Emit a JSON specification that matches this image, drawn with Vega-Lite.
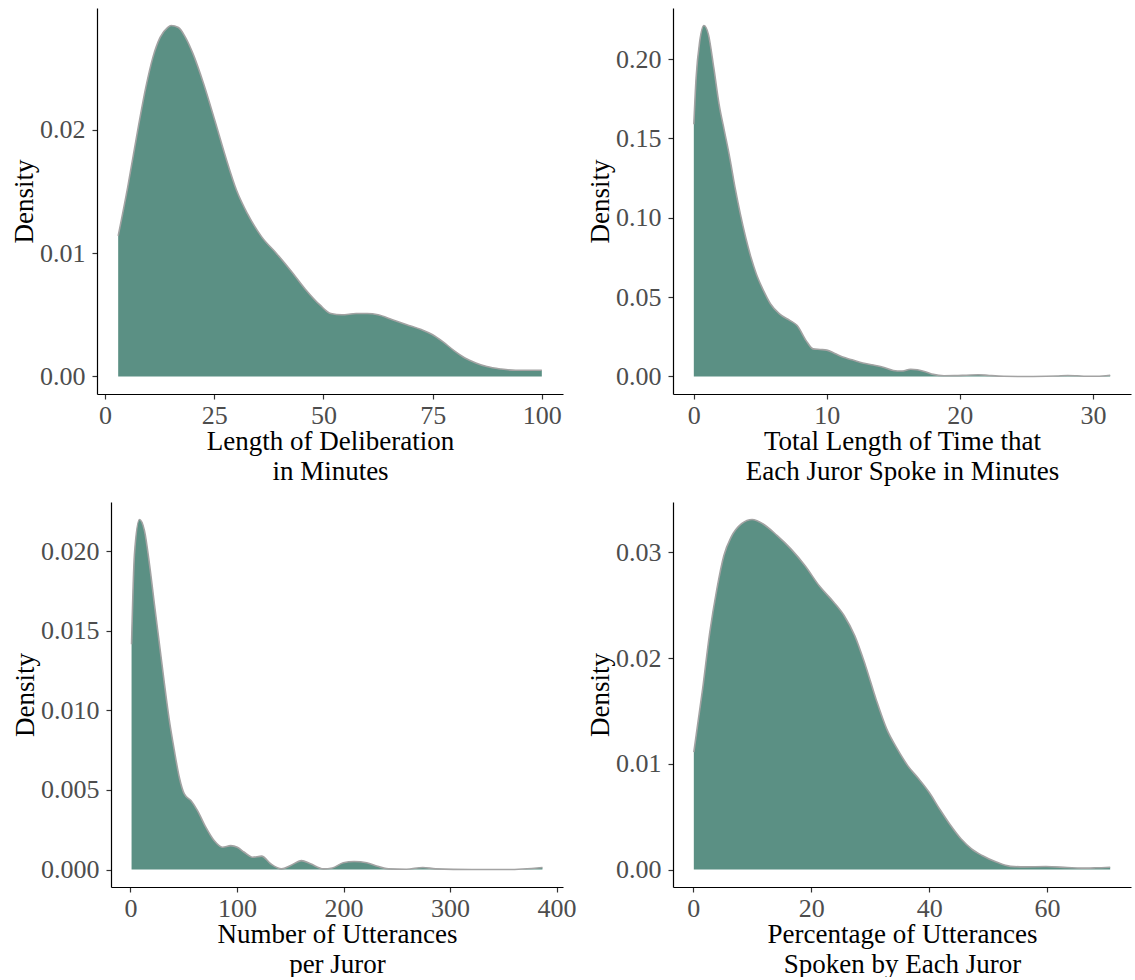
{
  "$schema": "https://vega.github.io/schema/vega-lite/v6.json",
  "background": "white",
  "padding": {"left": 10, "top": 8, "right": 2, "bottom": 0},
  "autosize": {"type": "pad"},
  "config": {
    "view": {"stroke": null},
    "axis": {
      "grid": false,
      "domainColor": "black",
      "domainWidth": 1.2,
      "tickColor": "#333333",
      "tickWidth": 1.2,
      "tickSize": 5,
      "labelFont": "Liberation Serif",
      "labelFontSize": 26,
      "labelColor": "#4D4D4D",
      "labelFlush": false,
      "titleFont": "Liberation Serif",
      "titleFontSize": 27,
      "titleFontWeight": "normal",
      "titleColor": "black"
    },
    "axisX": {"labelPadding": 3, "titlePadding": 0, "titleLineHeight": 30},
    "axisY": {"labelPadding": 7, "titlePadding": 1}
  },
  "datasets": {
    "empty": [],
    "p1": [
      {"x": 3, "density": 0.0114}, {"x": 5.15, "density": 0.0153}, {"x": 7.64, "density": 0.0203},
      {"x": 9.3, "density": 0.0234}, {"x": 10.96, "density": 0.0259}, {"x": 12.6, "density": 0.0275},
      {"x": 14.3, "density": 0.0283}, {"x": 15.1, "density": 0.02846}, {"x": 16.8, "density": 0.0283},
      {"x": 18.4, "density": 0.0275}, {"x": 20.1, "density": 0.0262}, {"x": 22.6, "density": 0.0237},
      {"x": 25.1, "density": 0.0208}, {"x": 27.6, "density": 0.0178}, {"x": 30.1, "density": 0.0151},
      {"x": 32.6, "density": 0.0132}, {"x": 35.9, "density": 0.0113}, {"x": 39.2, "density": 0.0100},
      {"x": 42.5, "density": 0.0086}, {"x": 45.8, "density": 0.0071}, {"x": 49.2, "density": 0.0058},
      {"x": 51.7, "density": 0.0051}, {"x": 54.2, "density": 0.0050}, {"x": 57.5, "density": 0.0051},
      {"x": 60.0, "density": 0.0051}, {"x": 62.5, "density": 0.0050}, {"x": 65.8, "density": 0.0046},
      {"x": 69.1, "density": 0.0042}, {"x": 72.4, "density": 0.0038}, {"x": 74.9, "density": 0.0034},
      {"x": 77.4, "density": 0.0028}, {"x": 79.9, "density": 0.0021}, {"x": 82.4, "density": 0.0015},
      {"x": 84.9, "density": 0.0011}, {"x": 87.4, "density": 0.0008}, {"x": 90.7, "density": 0.0006},
      {"x": 94.0, "density": 0.0005}, {"x": 97.3, "density": 0.0005}, {"x": 100, "density": 0.0005}
    ],
    "p2": [
      {"x": 0, "density": 0.159}, {"x": 0.17, "density": 0.188}, {"x": 0.44, "density": 0.211},
      {"x": 0.76, "density": 0.2212}, {"x": 1.1, "density": 0.2155}, {"x": 1.5, "density": 0.1946},
      {"x": 1.9, "density": 0.1715}, {"x": 2.3, "density": 0.1547}, {"x": 2.7, "density": 0.138},
      {"x": 3.1, "density": 0.119}, {"x": 3.5, "density": 0.1023}, {"x": 3.9, "density": 0.0876},
      {"x": 4.3, "density": 0.075}, {"x": 4.7, "density": 0.0646}, {"x": 5.24, "density": 0.0541},
      {"x": 5.77, "density": 0.0457}, {"x": 6.44, "density": 0.0394}, {"x": 7.24, "density": 0.0352},
      {"x": 7.77, "density": 0.0321}, {"x": 8.44, "density": 0.0226}, {"x": 8.97, "density": 0.0174},
      {"x": 9.5, "density": 0.0170}, {"x": 10.0, "density": 0.0166}, {"x": 10.6, "density": 0.0145},
      {"x": 11.2, "density": 0.0122}, {"x": 11.9, "density": 0.0105}, {"x": 12.7, "density": 0.0085},
      {"x": 13.5, "density": 0.0072}, {"x": 14.3, "density": 0.0057}, {"x": 15.0, "density": 0.0038},
      {"x": 15.6, "density": 0.0034}, {"x": 16.3, "density": 0.0045}, {"x": 16.8, "density": 0.0042},
      {"x": 17.4, "density": 0.0030}, {"x": 18.0, "density": 0.0013}, {"x": 18.8, "density": 0.0004},
      {"x": 19.6, "density": 0.0005}, {"x": 20.5, "density": 0.0008}, {"x": 21.4, "density": 0.0011},
      {"x": 22.2, "density": 0.0006}, {"x": 23.3, "density": 0.0001}, {"x": 24.5, "density": 0.0},
      {"x": 25.5, "density": 0.0}, {"x": 26.5, "density": 0.0001}, {"x": 27.3, "density": 0.0003},
      {"x": 28.1, "density": 0.0006}, {"x": 28.8, "density": 0.0004}, {"x": 29.5, "density": 0.0001},
      {"x": 30.3, "density": 0.0001}, {"x": 31.3, "density": 0.0008}
    ],
    "p3": [
      {"x": 1, "density": 0.01416}, {"x": 3.7, "density": 0.0198}, {"x": 8.4, "density": 0.0220},
      {"x": 13.1, "density": 0.0213}, {"x": 17.8, "density": 0.0192}, {"x": 22.4, "density": 0.0167},
      {"x": 27.1, "density": 0.0142}, {"x": 31.8, "density": 0.0117}, {"x": 36.4, "density": 0.0094},
      {"x": 41.1, "density": 0.0075}, {"x": 45.8, "density": 0.0058}, {"x": 50.5, "density": 0.00475},
      {"x": 56.7, "density": 0.00433}, {"x": 62.9, "density": 0.0037}, {"x": 70.7, "density": 0.00266},
      {"x": 78.5, "density": 0.00182}, {"x": 86.3, "density": 0.0014}, {"x": 94.1, "density": 0.0015},
      {"x": 100.3, "density": 0.0014}, {"x": 106.5, "density": 0.0011}, {"x": 114.6, "density": 0.00077},
      {"x": 123.1, "density": 0.00084}, {"x": 131.6, "density": 0.00036}, {"x": 141.8, "density": 0.00004},
      {"x": 150.3, "density": 0.00025}, {"x": 160.5, "density": 0.00056}, {"x": 169, "density": 0.00036},
      {"x": 181, "density": 0.00004}, {"x": 189.5, "density": 0.0001}, {"x": 199.7, "density": 0.00042},
      {"x": 209.9, "density": 0.0005}, {"x": 221.8, "density": 0.00042}, {"x": 232, "density": 0.0002},
      {"x": 242, "density": 0.00004}, {"x": 259, "density": 0.00002}, {"x": 274.5, "density": 0.00013},
      {"x": 286.4, "density": 0.00004}, {"x": 320, "density": 0.0}, {"x": 354, "density": 0.0},
      {"x": 386.7, "density": 0.00013}
    ],
    "p4": [
      {"x": 0.1, "density": 0.0111}, {"x": 1.6, "density": 0.0171}, {"x": 2.8, "density": 0.0224},
      {"x": 4.0, "density": 0.0265}, {"x": 5.2, "density": 0.0297}, {"x": 6.4, "density": 0.0314},
      {"x": 8.2, "density": 0.0327}, {"x": 10.0, "density": 0.0331}, {"x": 11.8, "density": 0.0327},
      {"x": 14.2, "density": 0.0316}, {"x": 16.6, "density": 0.0303}, {"x": 19.0, "density": 0.0287},
      {"x": 21.4, "density": 0.0268}, {"x": 23.8, "density": 0.0253}, {"x": 25.6, "density": 0.0240},
      {"x": 27.4, "density": 0.0221}, {"x": 29.2, "density": 0.0193}, {"x": 31.0, "density": 0.0161},
      {"x": 32.8, "density": 0.0133}, {"x": 34.6, "density": 0.0114}, {"x": 36.4, "density": 0.0098},
      {"x": 38.2, "density": 0.0086}, {"x": 40.0, "density": 0.0073}, {"x": 41.8, "density": 0.0057},
      {"x": 43.6, "density": 0.0042}, {"x": 45.4, "density": 0.0029}, {"x": 47.2, "density": 0.00195},
      {"x": 49.0, "density": 0.00132}, {"x": 51.4, "density": 0.0007}, {"x": 53.8, "density": 0.0003},
      {"x": 56.2, "density": 0.00025}, {"x": 59.8, "density": 0.00028}, {"x": 63.4, "density": 0.00019},
      {"x": 65.8, "density": 0.00013}, {"x": 68.2, "density": 0.00016}, {"x": 70.7, "density": 0.00022}
    ]
  },
  "columns": 1,
  "align": "none",
  "spacing": 18,
  "concat": [
    {
      "columns": 4,
      "align": "none",
      "bounds": "flush",
      "spacing": 0,
      "concat": [
        {"width": 1, "height": 386, "data": {"name": "empty"}, "mark": "point", "encoding": {}},
        {
          "width": 466, "height": 386,
          "data": {"name": "p1"},
          "mark": {"type": "area", "color": "#5B9084", "opacity": 1, "interpolate": "monotone", "line": {"color": "#A3A3A3", "strokeWidth": 1.6}},
          "encoding": {
            "x": {"field": "x", "type": "quantitative", "scale": {"domain": [-1.85, 104.85], "nice": false, "zero": false},
                  "axis": {"values": [0, 25, 50, 75, 100], "title": ["Length of Deliberation", "in Minutes"]}},
            "y": {"field": "density", "type": "quantitative", "scale": {"domain": [-0.001423, 0.029883], "nice": false, "zero": false},
                  "axis": {"values": [0, 0.01, 0.02], "format": ".2f", "title": "Density"}},
            "y2": {"datum": 0}
          }
        },
        {"width": 110, "height": 386, "data": {"name": "empty"}, "mark": "point", "encoding": {}},
        {
          "width": 458, "height": 386,
          "data": {"name": "p2"},
          "mark": {"type": "area", "color": "#5B9084", "opacity": 1, "interpolate": "monotone", "line": {"color": "#A3A3A3", "strokeWidth": 1.6}},
          "encoding": {
            "x": {"field": "x", "type": "quantitative", "scale": {"domain": [-1.565, 32.865], "nice": false, "zero": false},
                  "axis": {"values": [0, 10, 20, 30], "title": ["Total Length of Time that", "Each Juror Spoke in Minutes"]}},
            "y": {"field": "density", "type": "quantitative", "scale": {"domain": [-0.01106, 0.23226], "nice": false, "zero": false},
                  "axis": {"values": [0, 0.05, 0.1, 0.15, 0.2], "format": ".2f", "title": "Density"}},
            "y2": {"datum": 0}
          }
        }
      ]
    },
    {
      "columns": 4,
      "align": "none",
      "bounds": "flush",
      "spacing": 0,
      "concat": [
        {"width": 15, "height": 385, "data": {"name": "empty"}, "mark": "point", "encoding": {}},
        {
          "width": 452, "height": 385,
          "data": {"name": "p3"},
          "mark": {"type": "area", "color": "#5B9084", "opacity": 1, "interpolate": "monotone", "line": {"color": "#A3A3A3", "strokeWidth": 1.6}},
          "encoding": {
            "x": {"field": "x", "type": "quantitative", "scale": {"domain": [-18.3, 406], "nice": false, "zero": false},
                  "axis": {"values": [0, 100, 200, 300, 400], "title": ["Number of Utterances", "per Juror"]}},
            "y": {"field": "density", "type": "quantitative", "scale": {"domain": [-0.0011, 0.0231], "nice": false, "zero": false},
                  "axis": {"values": [0, 0.005, 0.01, 0.015, 0.02], "format": ".3f", "title": "Density"}},
            "y2": {"datum": 0}
          }
        },
        {"width": 110, "height": 385, "data": {"name": "empty"}, "mark": "point", "encoding": {}},
        {
          "width": 458, "height": 385,
          "data": {"name": "p4"},
          "mark": {"type": "area", "color": "#5B9084", "opacity": 1, "interpolate": "monotone", "line": {"color": "#A3A3A3", "strokeWidth": 1.6}},
          "encoding": {
            "x": {"field": "x", "type": "quantitative", "scale": {"domain": [-3.43, 74.23], "nice": false, "zero": false},
                  "axis": {"values": [0, 20, 40, 60], "title": ["Percentage of Utterances", "Spoken by Each Juror"]}},
            "y": {"field": "density", "type": "quantitative", "scale": {"domain": [-0.001655, 0.034755], "nice": false, "zero": false},
                  "axis": {"values": [0, 0.01, 0.02, 0.03], "format": ".2f", "title": "Density"}},
            "y2": {"datum": 0}
          }
        }
      ]
    }
  ]
}
